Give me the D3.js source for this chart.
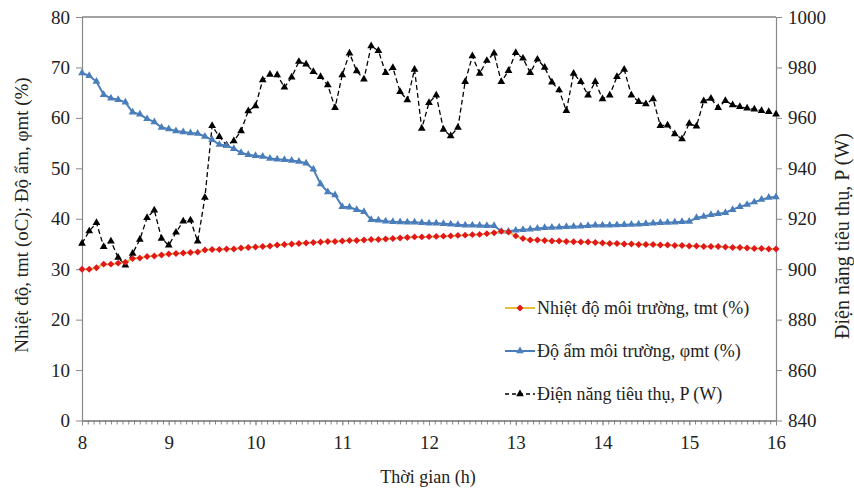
<!DOCTYPE html>
<html>
<head>
<meta charset="utf-8">
<script src="https://cdn.jsdelivr.net/npm/d3@7"></script>
<style>
  body { margin: 0; background: #fff; }
  svg { display: block; }
  svg text { font-family: "Liberation Serif", "DejaVu Serif", "Noto Serif", "Times New Roman", serif; }
</style>
</head>
<body>
<svg id="chart" width="854" height="492"></svg>
<script>
// readings every 5 minutes from 8:00 to 16:00
const startHour = 8;
const stepMinutes = 5;

const temperature = [
  30.0, 30.0, 30.3, 31.0, 31.0, 31.2, 31.4, 32.1, 32.2, 32.5, 32.6, 32.8, 33.0,
  33.1, 33.2, 33.3, 33.4, 33.8, 33.9, 33.9, 34.0, 34.0, 34.2, 34.3, 34.4,
  34.5, 34.6, 34.8, 34.9, 35.0, 35.1, 35.2, 35.3, 35.4, 35.5, 35.5, 35.6,
  35.7, 35.7, 35.8, 35.9, 35.9, 36.0, 36.1, 36.2, 36.3, 36.4, 36.4,
  36.45, 36.5, 36.55, 36.6, 36.7, 36.75, 36.85, 36.9, 37.05, 37.2, 37.5, 37.35,
  36.6, 36.1, 35.8, 35.8, 35.7, 35.6, 35.6, 35.5, 35.45, 35.4, 35.4, 35.3,
  35.2, 35.1, 35.1, 35.0, 35.0, 34.9, 34.9, 34.9, 34.8, 34.8, 34.7, 34.7,
  34.6, 34.6, 34.5, 34.5, 34.5, 34.4, 34.3, 34.3, 34.2, 34.1, 34.1, 34.0, 34.0
];

const humidity = [
  68.9, 68.35, 67.2, 64.6, 63.9, 63.6, 63.1, 61.1, 60.7, 59.8, 59.2, 58.1, 57.8,
  57.4, 57.2, 57.0, 56.9, 56.3, 55.65, 54.7, 54.5, 53.9, 53.1, 52.7, 52.5,
  52.35, 51.95, 51.8, 51.7, 51.55, 51.35, 51.0, 49.8, 46.9, 45.3, 44.7, 42.4,
  42.3, 41.8, 41.4, 39.8, 39.7, 39.5, 39.4, 39.35, 39.3, 39.3, 39.2,
  39.1, 39.1, 39.0, 38.9, 38.8, 38.7, 38.7, 38.65, 38.6, 38.6,
  37.5, 37.5, 37.7, 37.8, 37.9, 38.05, 38.2, 38.25, 38.3, 38.4, 38.45, 38.5, 38.6, 38.7,
  38.7, 38.7, 38.75, 38.8, 38.85, 38.9, 39.0, 39.1, 39.2, 39.25, 39.3, 39.4,
  39.45, 40.2, 40.45, 40.8, 41.0, 41.2, 41.8, 42.4, 42.8, 43.3, 43.8, 44.2, 44.3
];

const power = [
  910.2, 915.1, 918.4, 908.9, 911.1, 904.6, 901.6, 906.2, 911.8, 920.4, 923.4, 912.2, 909.5,
  914.6, 919.0, 919.4, 911.1, 928.4, 956.9, 952.5, 949.2, 950.8, 954.8, 962.7, 964.7,
  975.0, 977.2, 977.0, 972.1, 976.1, 982.3, 981.3, 978.3, 976.3, 973.0, 964.0, 977.0,
  985.6, 978.6, 975.3, 988.5, 986.6, 977.9, 979.9, 970.4, 967.1, 979.2, 955.8,
  966.0, 969.0, 955.4, 952.8, 956.2, 974.3, 984.5, 977.6, 982.7, 985.6, 974.3, 978.7,
  985.8, 983.6, 977.9, 983.2, 980.0, 974.1, 971.0, 962.8, 977.6, 974.3, 969.0, 974.3,
  967.5, 969.0, 976.3, 979.2, 969.0, 966.4, 965.5, 967.5, 956.9, 957.1, 953.6, 951.6,
  957.8, 956.7, 966.7, 967.7, 964.0, 966.8, 965.1, 964.4, 963.8, 963.4, 962.8, 962.4, 961.4
];

const xTicks = [8, 9, 10, 11, 12, 13, 14, 15, 16];
const leftTicks = [0, 10, 20, 30, 40, 50, 60, 70, 80];
const rightTicks = [840, 860, 880, 900, 920, 940, 960, 980, 1000];

const legendLabels = [
  'Nhiệt độ môi trường, tmt (%)',
  'Độ ẩm môi trường, φmt (%)',
  'Điện năng tiêu thụ, P (W)'
];

const FONT = '"Liberation Serif", "DejaVu Serif", "Noto Serif", "Times New Roman", serif';

const svg = d3.select('#chart');
const plot = { left: 82, right: 776, top: 17, bottom: 420.5 };

const x = d3.scaleLinear().domain([8, 16]).range([plot.left, plot.right]);
const yL = d3.scaleLinear().domain([0, 80]).range([plot.bottom, plot.top]);
const yR = d3.scaleLinear().domain([840, 1000]).range([plot.bottom, plot.top]);

const hourOf = (i) => startHour + (i * stepMinutes) / 60;

// top border of plot area
svg.append('line')
  .attr('x1', plot.left).attr('x2', plot.right).attr('y1', plot.top).attr('y2', plot.top)
  .attr('stroke', '#444').attr('stroke-width', 1);

// axes
const axisStyle = (g) => {
  g.attr('font-family', FONT);
  g.selectAll('path.domain').attr('stroke', '#888').attr('stroke-width', 1.2);
  g.selectAll('.tick line').attr('stroke', '#888');
  g.selectAll('.tick text').attr('font-size', 19).attr('fill', '#222');
};

svg.append('g')
  .attr('transform', `translate(${plot.left},0)`)
  .call(d3.axisLeft(yL).tickValues(leftTicks).tickSize(6).tickSizeOuter(0).tickPadding(6).tickFormat(d3.format('d')))
  .call(axisStyle);

svg.append('g')
  .attr('transform', `translate(${plot.right},0)`)
  .call(d3.axisRight(yR).tickValues(rightTicks).tickSize(6).tickSizeOuter(0).tickPadding(6).tickFormat(d3.format('d')))
  .call(axisStyle);

const minorTicks = d3.range(0, 8 * 15 + 1).map((k) => 8 + k / 15);
svg.append('g')
  .attr('transform', `translate(0,${plot.bottom})`)
  .call(d3.axisBottom(x).tickValues(minorTicks).tickSize(4).tickSizeOuter(0).tickFormat(''))
  .call(axisStyle);

svg.append('g')
  .attr('transform', `translate(0,${plot.bottom})`)
  .call(d3.axisBottom(x).tickValues(xTicks).tickSize(5).tickSizeOuter(0).tickPadding(10).tickFormat(d3.format('d')))
  .call(axisStyle)
  .call((g) => g.select('path.domain').attr('stroke', '#666'));

// axis titles
svg.append('text')
  .attr('transform', 'translate(28,215) rotate(-90)')
  .attr('text-anchor', 'middle').attr('font-size', 19).attr('fill', '#222')
  .attr('font-family', FONT)
  .text('Nhiệt độ, tmt (oC); Độ ẩm, φmt (%)');

svg.append('text')
  .attr('transform', 'translate(849,236) rotate(-90)')
  .attr('text-anchor', 'middle').attr('font-size', 20).attr('fill', '#222')
  .attr('font-family', FONT)
  .text('Điện năng tiêu thụ, P (W)');

svg.append('text')
  .attr('x', 428).attr('y', 483)
  .attr('text-anchor', 'middle').attr('font-size', 18).attr('fill', '#222')
  .attr('font-family', FONT)
  .text('Thời gian (h)');

// series
const tempColor = '#e5be3a', tempMarker = '#e3161b';
const humColor = '#4a7ebb';
const powColor = '#000';

const lineL = (arr) => d3.line().x((d, i) => x(hourOf(i))).y((d) => yL(d))(arr);
const lineR = (arr) => d3.line().x((d, i) => x(hourOf(i))).y((d) => yR(d))(arr);

const diamond = d3.symbol().type(d3.symbolSquare).size(24);
const triangle = d3.symbol().type(d3.symbolTriangle).size(26);

// power (dashed, black triangles)
svg.append('path').attr('d', lineR(power))
  .attr('fill', 'none').attr('stroke', powColor).attr('stroke-width', 1.3)
  .attr('stroke-dasharray', '5,3');
svg.append('g').selectAll('path').data(power).join('path')
  .attr('d', triangle)
  .attr('transform', (d, i) => `translate(${x(hourOf(i))},${yR(d)})`)
  .attr('fill', powColor);

// humidity
svg.append('path').attr('d', lineL(humidity))
  .attr('fill', 'none').attr('stroke', humColor).attr('stroke-width', 2);
svg.append('g').selectAll('path').data(humidity).join('path')
  .attr('d', triangle)
  .attr('transform', (d, i) => `translate(${x(hourOf(i))},${yL(d)})`)
  .attr('fill', humColor);

// temperature
svg.append('path').attr('d', lineL(temperature))
  .attr('fill', 'none').attr('stroke', tempColor).attr('stroke-width', 2);
svg.append('g').selectAll('path').data(temperature).join('path')
  .attr('d', diamond)
  .attr('transform', (d, i) => `translate(${x(hourOf(i))},${yL(d)}) rotate(45)`)
  .attr('fill', tempMarker);

// legend
const legendRows = [
  { label: legendLabels[0], color: tempColor, marker: tempMarker, sym: 'diamond', dash: null },
  { label: legendLabels[1], color: humColor, marker: humColor, sym: 'triangle', dash: null },
  { label: legendLabels[2], color: powColor, marker: powColor, sym: 'triangle', dash: '4,3' }
];
const legend = svg.append('g').attr('font-family', FONT);
legendRows.forEach((r, k) => {
  const cy = 308 + k * 43;
  const g = legend.append('g').attr('transform', `translate(0,${cy})`);
  g.append('line').attr('x1', 505).attr('x2', 535).attr('y1', 0).attr('y2', 0)
    .attr('stroke', r.color).attr('stroke-width', r.dash ? 1.3 : 2)
    .attr('stroke-dasharray', r.dash);
  g.append('path')
    .attr('d', r.sym === 'diamond' ? diamond : triangle)
    .attr('transform', `translate(520,0)${r.sym === 'diamond' ? ' rotate(45)' : ''}`)
    .attr('fill', r.marker);
  g.append('text').attr('x', 537).attr('y', 6).attr('font-size', 18).attr('fill', '#222')
    .text(r.label);
});
</script>
</body>
</html>
